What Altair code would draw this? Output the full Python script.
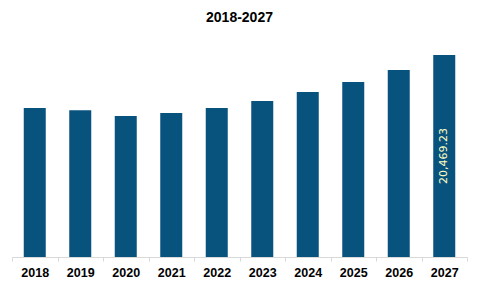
import altair as alt
import pandas as pd

years = ["2018", "2019", "2020", "2021", "2022", "2023", "2024", "2025", "2026", "2027"]
values = [15100, 14890, 14290, 14590, 15100, 15810, 16720, 17730, 18950, 20469.23]
label_year = "2027"
label_text = "20,469.23"

df = pd.DataFrame({"year": years, "value": values})
df["label"] = [label_text if y == label_year else "" for y in years]

base = alt.Chart(df)

bars = base.mark_bar(size=22, color="#08527e").encode(
    x=alt.X("year:N", sort=years, title=None,
            scale=alt.Scale(paddingInner=0, paddingOuter=0),
            axis=alt.Axis(labelAngle=0, labelFont="Liberation Sans", labelFontSize=12.5,
                          labelFontWeight="bold", labelColor="#000000", labelPadding=5,
                          domainColor="#d9d9d9", tickColor="#d9d9d9", tickSize=4,
                          tickBand="extent", grid=False)),
    y=alt.Y("value:Q", title=None, scale=alt.Scale(domain=[0, 22000], nice=False),
            axis=None),
)

text = base.transform_filter(alt.datum.label != "").mark_text(
    angle=270, color="#ffffc0", font="DejaVu Sans", fontSize=11,
    align="center", baseline="middle",
).encode(
    x=alt.X("year:N", sort=years),
    y=alt.Y("mid:Q", scale=alt.Scale(domain=[0, 22000], nice=False)),
    text="label:N",
).transform_calculate(mid="datum.value / 2")

chart = (bars + text).properties(
    width=455, height=217,
    title=alt.TitleParams("2018-2027", font="Liberation Sans", fontSize=14,
                          fontWeight="bold", color="#000000", anchor="middle", offset=15),
    autosize=alt.AutoSizeParams(type="none"),
    padding={"left": 12, "top": 40, "right": 13, "bottom": 31},
).configure_view(stroke=None)

chart.save("out.html", embed_options={"renderer": "svg", "actions": False})
